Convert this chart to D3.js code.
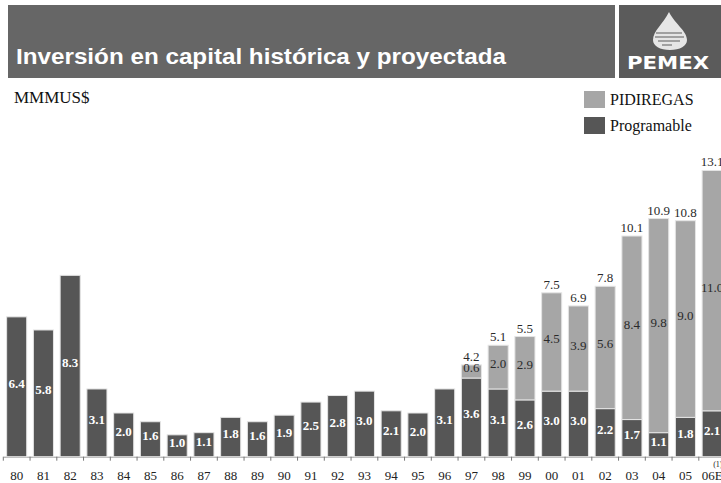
<!DOCTYPE html>
<html>
<head>
<meta charset="utf-8">
<script src="https://cdn.jsdelivr.net/npm/d3@7"></script>
<style>
	body { margin: 0; background: #fff; }
	svg { display: block; }
	.year { font-family: "Liberation Serif", "Times New Roman", serif; font-size: 13px; fill: #222; }
	.prog { font-family: "Liberation Serif", "Times New Roman", serif; font-size: 13px; font-weight: bold; fill: #fff; }
	.pidi { font-family: "Liberation Serif", "Times New Roman", serif; font-size: 13px; fill: #2a2a2a; }
	.total { font-family: "Liberation Serif", "Times New Roman", serif; font-size: 13px; fill: #2a2a2a; }
	.legend { font-family: "Liberation Serif", "Times New Roman", serif; font-size: 16px; fill: #111; }
</style>
</head>
<body>
<svg width="721" height="483"></svg>
<script>
// data
const years = ["80","81","82","83","84","85","86","87","88","89","90","91","92","93","94","95","96","97","98","99","00","01","02","03","04","05","06E"]
const programable = [6.4,5.8,8.3,3.1,2.0,1.6,1.0,1.1,1.8,1.6,1.9,2.5,2.8,3.0,2.1,2.0,3.1,3.6,3.1,2.6,3.0,3.0,2.2,1.7,1.1,1.8,2.1]
const pidiregas = [0,0,0,0,0,0,0,0,0,0,0,0,0,0,0,0,0,0.6,2.0,2.9,4.5,3.9,5.6,8.4,9.8,9.0,11.0]
const seriesNames = ["PIDIREGAS","Programable"]

const colProg = "#565656"
const colPidi = "#a6a6a6"

const svg = d3.select("svg")

const data = years.map((y,i)=>{
	return {year: y, prog: programable[i], pidi: pidiregas[i], total: programable[i] + pidiregas[i]}
})

//header banner
svg.append("rect")
	.attr("x", 8).attr("y", 5)
	.attr("width", 607).attr("height", 73)
	.attr("fill", "#666")

svg.append("text")
	.attr("x", 16).attr("y", 64)
	.attr("fill", "#fff")
	.attr("textLength", 490)
	.attr("lengthAdjust", "spacingAndGlyphs")
	.style("font-family", "'Liberation Sans', Arial, sans-serif")
	.style("font-weight", "bold")
	.style("font-size", "22.5px")
	.text("Inversión en capital histórica y proyectada")

//logo box
svg.append("rect")
	.attr("x", 619).attr("y", 5)
	.attr("width", 102).attr("height", 73)
	.attr("fill", "#5b5b5b")

svg.append("path")
	.attr("d", "M669,12 C663,24 653,31 653,40 C653,46 660,50 670,50 C680,50 687,46 687,40 C687,31 675,24 669,12 Z")
	.attr("fill", "#e6e6e6")
svg.append("path")
	.attr("d", "M656,33 L682,33 M655,37 L684,37 M658,41 L680,41 M662,45 L672,45")
	.attr("stroke", "#8a8a8a")
	.attr("stroke-width", 1.3)

svg.append("text")
	.attr("x", 627).attr("y", 69)
	.attr("fill", "#fff")
	.attr("textLength", 82)
	.attr("lengthAdjust", "spacingAndGlyphs")
	.style("font-family", "'DejaVu Sans', sans-serif")
	.style("font-weight", "bold")
	.style("font-size", "18px")
	.text("PEMEX")

//unit label
svg.append("text")
	.attr("x", 14).attr("y", 103)
	.attr("class", "legend")
	.style("font-size", "17px")
	.text("MMMUS$")

//legend
const legend = svg.selectAll("g.leg")
	.data(seriesNames)
	.enter()
	.append("g")
	.attr("class", "leg")
	.attr("transform", (d,i)=>`translate(584,${91 + i*26})`)

legend.append("rect")
	.attr("width", 21).attr("height", 17)
	.attr("fill", (d,i)=> i == 0 ? colPidi : colProg)

legend.append("text")
	.attr("x", 26).attr("y", 14)
	.attr("class", "legend")
	.text(d=>d)

//scales
const x = d3.scaleBand()
	.domain(years)
	.range([3.3, 3.3 + 27*26.75])
	.paddingInner(0.25)
	.paddingOuter(0.125)

const y = d3.scaleLinear()
	.domain([0, 14])
	.range([456.7, 456.7 - 14*21.85])

//axis
const axis = svg.append("g")
	.attr("transform", `translate(0,${y(0)})`)
	.call(d3.axisBottom(x).tickSize(0).tickFormat(""))
axis.select(".domain").attr("stroke", "#9a9a9a")

svg.selectAll("line.tick")
	.data(years)
	.enter()
	.append("line")
	.attr("class", "tick")
	.attr("x1", d=>x(d) - x.step()*x.paddingInner()/2)
	.attr("x2", d=>x(d) - x.step()*x.paddingInner()/2)
	.attr("y1", y(0))
	.attr("y2", y(0) + 4)
	.attr("stroke", "#777")

//bars
const groups = svg.selectAll("g.bar")
	.data(data)
	.enter()
	.append("g")
	.attr("class", "bar")

groups.append("rect")
	.attr("x", d=>x(d.year))
	.attr("y", d=>y(d.prog))
	.attr("width", x.bandwidth())
	.attr("height", d=>y(0) - y(d.prog))
	.attr("fill", colProg)
	.attr("stroke", "#e4e4e4")
	.attr("stroke-width", 1)

groups.filter(d=>d.pidi > 0)
	.append("rect")
	.attr("x", d=>x(d.year))
	.attr("y", d=>y(d.total))
	.attr("width", x.bandwidth())
	.attr("height", d=>y(d.prog) - y(d.total))
	.attr("fill", colPidi)
	.attr("stroke", "#e4e4e4")
	.attr("stroke-width", 1)

//labels
groups.append("text")
	.attr("x", d=>x(d.year) + x.bandwidth()/2)
	.attr("y", d=>(y(0) + y(d.prog))/2 + 1)
	.attr("class", "prog")
	.style("text-anchor", "middle")
	.text(d=>d.prog.toFixed(1))

groups.filter(d=>d.pidi > 0)
	.append("text")
	.attr("x", d=>x(d.year) + x.bandwidth()/2)
	.attr("y", d=>(y(d.prog) + y(d.total))/2 + 1)
	.attr("class", "pidi")
	.style("text-anchor", "middle")
	.text(d=>d.pidi.toFixed(1))

groups.filter(d=>d.pidi > 0)
	.append("text")
	.attr("x", d=>x(d.year) + x.bandwidth()/2)
	.attr("y", d=>y(d.total) - 4)
	.attr("class", "total")
	.style("text-anchor", "middle")
	.text(d=>d.total.toFixed(1))

groups.append("text")
	.attr("x", d=>x(d.year) + x.bandwidth()/2)
	.attr("y", 480)
	.attr("class", "year")
	.style("text-anchor", "middle")
	.text(d=>d.year)

//footnote mark on last year
svg.append("text")
	.attr("x", x("06E") + x.bandwidth()/2 + 1)
	.attr("y", 467)
	.attr("class", "year")
	.style("font-size", "8px")
	.text("(1)")
</script>
</body>
</html>
